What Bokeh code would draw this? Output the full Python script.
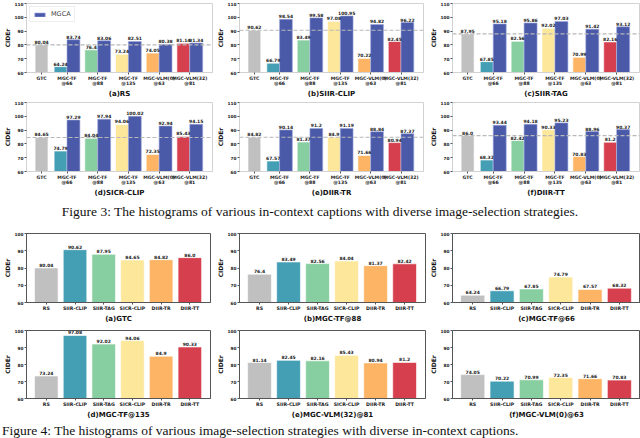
import numpy as np
from bokeh.core.properties import value
from bokeh.embed import file_html
from bokeh.layouts import column, row
from bokeh.models import AllLabels, Div, FixedTicker, Legend, LegendItem, Span
from bokeh.plotting import figure
from bokeh.resources import INLINE

FONT = "DejaVu Sans"

# image-selection strategies
strategies = ["RS", "SIIR-CLIP", "SIIR-TAG", "SICR-CLIP", "DIIR-TR", "DIIR-TT"]
# in-context caption sources
models = ["MGC-TF@66", "MGC-TF@88", "MGC-TF@135", "MGC-VLM(0)@63", "MGC-VLM(32)@81"]
model_ticks = ["MGC-TF\n@66", "MGC-TF\n@88", "MGC-TF\n@135", "MGC-VLM(0)\n@63", "MGC-VLM(32)\n@81"]

# CIDEr with ground-truth captions, one per strategy
gtc = [80.04, 90.62, 87.95, 84.65, 84.82, 86.0]

# CIDEr with model captions (order of `models`)
rs_base = [64.24, 76.4, 73.24, 74.05, 81.14]
siir_clip_base = [66.79, 83.49, 97.08, 70.22, 82.45]
siir_tag_base = [67.85, 82.56, 92.02, 70.99, 82.16]
sicr_clip_base = [74.79, 84.04, 94.06, 72.35, 85.43]
diir_tr_base = [67.57, 81.37, 84.9, 71.66, 80.94]
diir_tt_base = [68.32, 82.42, 90.33, 70.83, 81.2]

# same, with MGCA
rs_mgca = [83.74, 83.06, 82.51, 80.38, 81.34]
siir_clip_mgca = [98.54, 99.58, 100.95, 94.82, 96.22]
siir_tag_mgca = [95.18, 95.86, 97.03, 91.42, 93.12]
sicr_clip_mgca = [97.29, 97.94, 100.02, 92.94, 94.15]
diir_tr_mgca = [90.14, 91.2, 91.19, 88.84, 87.37]
diir_tt_mgca = [93.44, 94.18, 95.23, 88.96, 90.37]

baseline = [rs_base, siir_clip_base, siir_tag_base, sicr_clip_base, diir_tr_base, diir_tt_base]
mgca = [rs_mgca, siir_clip_mgca, siir_tag_mgca, sicr_clip_mgca, diir_tr_mgca, diir_tt_mgca]

fig4_models = [1, 0, 2, 4, 3]  # panels (b)-(f) of figure 4
letters = ["a", "b", "c", "d", "e", "f"]

gray = "#c0c0c0"
caption_colors = ["#449fb5", "#87cfa1", "#fde79b", "#fdb565", "#d6404e"]
strategy_colors = [gray] + caption_colors
mgca_color = "#4a5aa8"

# panel widths / side borders per column
col_w = [213, 213, 214]
top_lr = [(20, 1), (19, 3), (22, 1)]
bot_lr = [(20, 3), (22, 1), (24, 0)]


def base_fig(w, h, y_top, borders, frame_color, x_range):
    left, right, top = borders
    p = figure(width=w, height=h, x_range=x_range, y_range=(60, y_top),
               output_backend="svg", toolbar_location=None,
               min_border_left=left, min_border_right=right,
               min_border_top=top, min_border_bottom=4)
    p.grid.grid_line_color = None
    p.outline_line_color = frame_color
    p.yaxis.ticker = FixedTicker(ticks=list(range(60, y_top + 1, 10)))
    p.yaxis.axis_label = "CIDEr"
    for ax in (p.xaxis[0], p.yaxis[0]):
        ax.major_label_policy = AllLabels()
        ax.axis_line_color = frame_color
        ax.major_tick_line_color = "#555555"
        ax.major_tick_out = 2
        ax.major_tick_in = 0
        ax.minor_tick_line_color = None
        ax.major_label_standoff = 1
        ax.axis_label_standoff = 1
        ax.major_label_text_font = FONT
        ax.major_label_text_font_style = "bold"
        ax.major_label_text_color = "#222222"
        ax.major_label_text_line_height = 1.0
        ax.axis_label_text_font = FONT
        ax.axis_label_text_font_style = "bold"
        ax.axis_label_text_color = "#111111"
    p.yaxis.major_label_text_font_size = "4.3px"
    p.xaxis.major_label_text_font_size = "4.6px"
    p.yaxis.axis_label_text_font_size = "6px"
    p.xaxis.axis_label_text_font_size = "7px"
    return p


def label_bars(p, xs, tops):
    p.text(x=list(xs), y=list(tops), text=[str(v) for v in tops],
           text_align="center", text_baseline="bottom", y_offset=-1,
           text_font=value(FONT), text_font_size="4.5px",
           text_font_style="bold", text_color="#222222")


def fig3_panel(i, h, top_border):
    c = i % 3
    p = base_fig(col_w[c], h, 110, top_lr[c] + (top_border,), "#d2d2d2", (-0.32, 5.74))
    groups = np.arange(1, 6)
    p.vbar(x=[0.17], top=[gtc[i]], bottom=60, width=0.42,
           fill_color=gray, line_color="white", line_width=0.6)
    p.vbar(x=groups - 0.21, top=baseline[i], bottom=60, width=0.42,
           fill_color=caption_colors, line_color="white", line_width=0.6)
    r = p.vbar(x=groups + 0.21, top=mgca[i], bottom=60, width=0.42,
               fill_color=mgca_color, line_color="#9aa5dc", line_width=0.6)
    p.add_layout(Span(location=gtc[i], dimension="width", line_color="#b8b8b8",
                      line_dash="4 2", line_width=1.2))
    label_bars(p, [0.17], [gtc[i]])
    label_bars(p, groups - 0.21, baseline[i])
    label_bars(p, groups + 0.21, mgca[i])
    p.xaxis.ticker = FixedTicker(ticks=[0.17, 1, 2, 3, 4, 5])
    p.xaxis.major_label_overrides = dict(zip([0.17, 1, 2, 3, 4, 5], ["GTC"] + model_ticks))
    p.xaxis.axis_label = "(%s)%s" % (letters[i], strategies[i])
    if i == 0:
        leg = Legend(items=[LegendItem(label="MGCA", renderers=[r])], location="top_left",
                     label_text_font=FONT, label_text_font_size="6.5px",
                     glyph_width=13, glyph_height=5, label_standoff=5,
                     padding=3, margin=3, spacing=0, label_height=6,
                     border_line_color="#dddddd")
        p.add_layout(leg)
    return p


def fig4_panel(k, title, vals, h, top_border):
    c = k % 3
    p = base_fig(col_w[c], h, 100, bot_lr[c] + (top_border,), "#555555", (-0.69, 5.72))
    xs = np.arange(6)
    p.vbar(x=xs, top=vals, bottom=60, width=0.82,
           fill_color=strategy_colors, line_color="white", line_width=0.6)
    label_bars(p, xs, vals)
    p.xaxis.ticker = FixedTicker(ticks=list(range(6)))
    p.xaxis.major_label_overrides = dict(zip(range(6), strategies))
    p.xaxis.major_label_text_font_size = "4.7px"
    p.xaxis.axis_label = title
    return p


row1 = row(*[fig3_panel(i, 100, 3) for i in range(3)], spacing=0)
row2 = row(*[fig3_panel(i, 99, 2) for i in range(3, 6)], spacing=0)

fig4 = [fig4_panel(0, "(a)GTC", gtc, 100, 8)]
for k, m in enumerate(fig4_models):
    vals = [baseline[s][m] for s in range(6)]
    fig4.append(fig4_panel(k + 1, "(%s)%s" % (letters[k + 1], models[m]), vals,
                           100 if k < 2 else 96, 8 if k < 2 else 5))
row3 = row(*fig4[:3], spacing=0)
row4 = row(*fig4[3:], spacing=0)

serif = {"font-family": "'Liberation Serif', serif", "font-size": "13.5px",
         "color": "#111111", "white-space": "nowrap", "overflow": "hidden"}
cap1 = Div(text="Figure 3: The histograms of various in-context captions with diverse image-selection strategies.",
           width=640, height=26, margin=0,
           styles=dict(serif, **{"text-align": "center", "line-height": "26px"}))
cap2 = Div(text="Figure 4: The histograms of various image-selection strategies with diverse in-context captions.",
           width=640, height=17, margin=0,
           styles=dict(serif, **{"text-align": "left", "line-height": "20px", "padding-left": "2px"}))

p = column(row1, row2, cap1, row3, row4, cap2, spacing=0)
open("out.html", "w").write(file_html(p, INLINE))
